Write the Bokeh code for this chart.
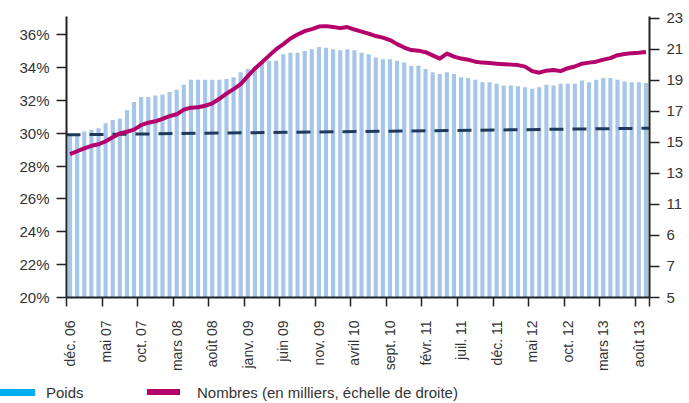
import math
from bokeh.plotting import figure
from bokeh.layouts import column
from bokeh.models import (Range1d, LinearAxis, FixedTicker, ColumnDataSource, Div)
from bokeh.embed import file_html
from bokeh.resources import INLINE

# ---------------- data ----------------
month_labels = ["déc. 06", "mai 07", "oct. 07", "mars 08", "août 08", "janv. 09",
                "juin 09", "nov. 09", "avril 10", "sept. 10", "févr. 11", "juil. 11",
                "déc. 11", "mai 12", "oct. 12", "mars 13", "août 13"]
label_step = 5

poids = [29.9, 30.0, 30.1, 30.2, 30.3, 30.6, 30.8, 30.9, 31.4, 31.9,
         32.2, 32.2, 32.3, 32.35, 32.5, 32.65, 32.95, 33.25, 33.25, 33.25,
         33.25, 33.25, 33.3, 33.4, 33.7, 33.9, 34.0, 34.3, 34.4, 34.4,
         34.8, 34.9, 34.9, 35.0, 35.1, 35.25, 35.2, 35.1, 35.05, 35.1,
         35.05, 34.9, 34.8, 34.6, 34.5, 34.5, 34.4, 34.3, 34.1, 34.1,
         33.9, 33.7, 33.6, 33.7, 33.6, 33.4, 33.35, 33.25, 33.1, 33.1,
         33.0, 32.9, 32.9, 32.85, 32.8, 32.7, 32.8, 32.95, 32.9, 33.0,
         33.0, 33.0, 33.2, 33.1, 33.25, 33.35, 33.35, 33.25, 33.15, 33.1,
         33.1, 33.05]

nombres = [14.23, 14.42, 14.61, 14.77, 14.87, 15.06, 15.32, 15.56, 15.68, 15.81,
           16.1, 16.26, 16.35, 16.5, 16.68, 16.8, 17.1, 17.23, 17.26, 17.35,
           17.5, 17.8, 18.13, 18.42, 18.74, 19.26, 19.75, 20.16, 20.58, 21.0,
           21.32, 21.68, 21.94, 22.16, 22.29, 22.45, 22.48, 22.42, 22.35, 22.42,
           22.26, 22.13, 22.0, 21.84, 21.74, 21.58, 21.32, 21.1, 20.94, 20.9,
           20.8, 20.6, 20.39, 20.71, 20.52, 20.39, 20.32, 20.19, 20.13, 20.1,
           20.06, 20.03, 20.0, 19.97, 19.87, 19.58, 19.48, 19.61, 19.65, 19.58,
           19.77, 19.88, 20.06, 20.13, 20.19, 20.32, 20.42, 20.61, 20.68, 20.74,
           20.77, 20.82]

trend_values = [29.9, 30.3]   # dashed trend line (left axis), first and last month

left_ticks = [20, 22, 24, 26, 28, 30, 32, 34, 36]
left_tick_labels = ["20%", "22%", "24%", "26%", "28%", "30%", "32%", "34%", "36%"]
right_ticks = [5, 7, 9, 11, 13, 15, 17, 19, 21, 23]
right_tick_labels = ["5", "7", "6", "11", "13", "15", "17", "19", "21", "23"]

legend_poids = "Poids"
legend_nombres = "Nombres (en milliers, échelle de droite)"

# ---------------- styling ----------------
FONT = "Liberation Sans"
TXT = "#333333"
AX = "#222222"
BAR = "#A5C6E7"
CYAN = "#00AEEF"
MAG = "#B4006A"
NAVY = "#1F3A5C"

n = len(poids)
x = list(range(n))

p = figure(frame_width=583, frame_height=281, output_backend="svg",
           toolbar_location=None, x_range=Range1d(-0.5, n - 0.5),
           y_range=Range1d(20, 37.1),
           min_border_left=66, min_border_right=39, min_border_top=16,
           min_border_bottom=83)
p.outline_line_color = None
p.xgrid.visible = False
p.ygrid.visible = False
p.background_fill_color = "white"
p.border_fill_color = "white"
p.extra_y_ranges = {"right": Range1d(5, 23.1)}

src = ColumnDataSource(dict(x=x, poids=poids, nombres=nombres))
p.vbar(x="x", top="poids", bottom=20, width=0.58, source=src,
       fill_color=BAR, line_color=None)

p.line([-0.5, n - 0.5], trend_values, line_color=NAVY, line_width=3,
       line_dash="14 9")

p.line("x", "nombres", source=src, y_range_name="right", line_color=MAG,
       line_width=4, line_join="round")

# x axis
xa = p.xaxis[0]
label_pos = list(range(0, n, label_step))
bounds = [i - 0.5 for i in range(0, n, label_step)] + [n - 0.5]
xa.ticker = FixedTicker(ticks=label_pos, minor_ticks=bounds)
xa.major_label_overrides = {i: month_labels[k] for k, i in enumerate(label_pos)}
xa.major_label_orientation = math.pi / 2
xa.major_tick_out = 0
xa.major_tick_in = 0
xa.minor_tick_out = 9
xa.minor_tick_in = 0
xa.minor_tick_line_color = AX
xa.minor_tick_line_width = 1.5
xa.axis_line_color = AX
xa.axis_line_width = 2
xa.major_label_standoff = 14
xa.major_label_text_font = FONT
xa.major_label_text_font_size = "14px"
xa.major_label_text_color = TXT

# left axis
ya = p.yaxis[0]
ya.ticker = FixedTicker(ticks=left_ticks)
ya.major_label_overrides = {t: l for t, l in zip(left_ticks, left_tick_labels)}
ya.minor_tick_line_color = None
ya.major_tick_out = 10
ya.major_tick_in = 0
ya.major_tick_line_color = AX
ya.major_tick_line_width = 1.5
ya.axis_line_color = AX
ya.axis_line_width = 2
ya.major_label_standoff = 7
ya.major_label_text_font = FONT
ya.major_label_text_font_size = "15px"
ya.major_label_text_color = TXT

# right axis
ra = LinearAxis(y_range_name="right", ticker=FixedTicker(ticks=right_ticks))
ra.major_label_overrides = {t: l for t, l in zip(right_ticks, right_tick_labels)}
ra.minor_tick_line_color = None
ra.major_tick_out = 10
ra.major_tick_in = 0
ra.major_tick_line_color = AX
ra.major_tick_line_width = 1.5
ra.axis_line_color = AX
ra.axis_line_width = 2
ra.major_label_standoff = 7
ra.major_label_text_font = FONT
ra.major_label_text_font_size = "15px"
ra.major_label_text_color = TXT
p.add_layout(ra, "right")

# ---------------- legend strip (HTML) ----------------
legend_html = (
    f'<div style="position:relative;width:688px;height:20px;white-space:nowrap;'
    f'font-family:\'{FONT}\',Arial,sans-serif;font-size:15px;color:{TXT};">'
    f'<span style="position:absolute;left:0px;top:9px;width:35px;height:7px;'
    f'background:{CYAN};"></span>'
    f'<span style="position:absolute;left:46px;top:4px;line-height:17px;">{legend_poids}</span>'
    f'<span style="position:absolute;left:147px;top:9px;width:33px;height:6px;'
    f'background:{MAG};"></span>'
    f'<span style="position:absolute;left:197px;top:4px;line-height:17px;">{legend_nombres}</span>'
    f'</div>'
)
leg = Div(text=legend_html, width=688, height=20, margin=0)

layout = column(p, leg, spacing=0)
open("out.html", "w").write(file_html(layout, INLINE))
